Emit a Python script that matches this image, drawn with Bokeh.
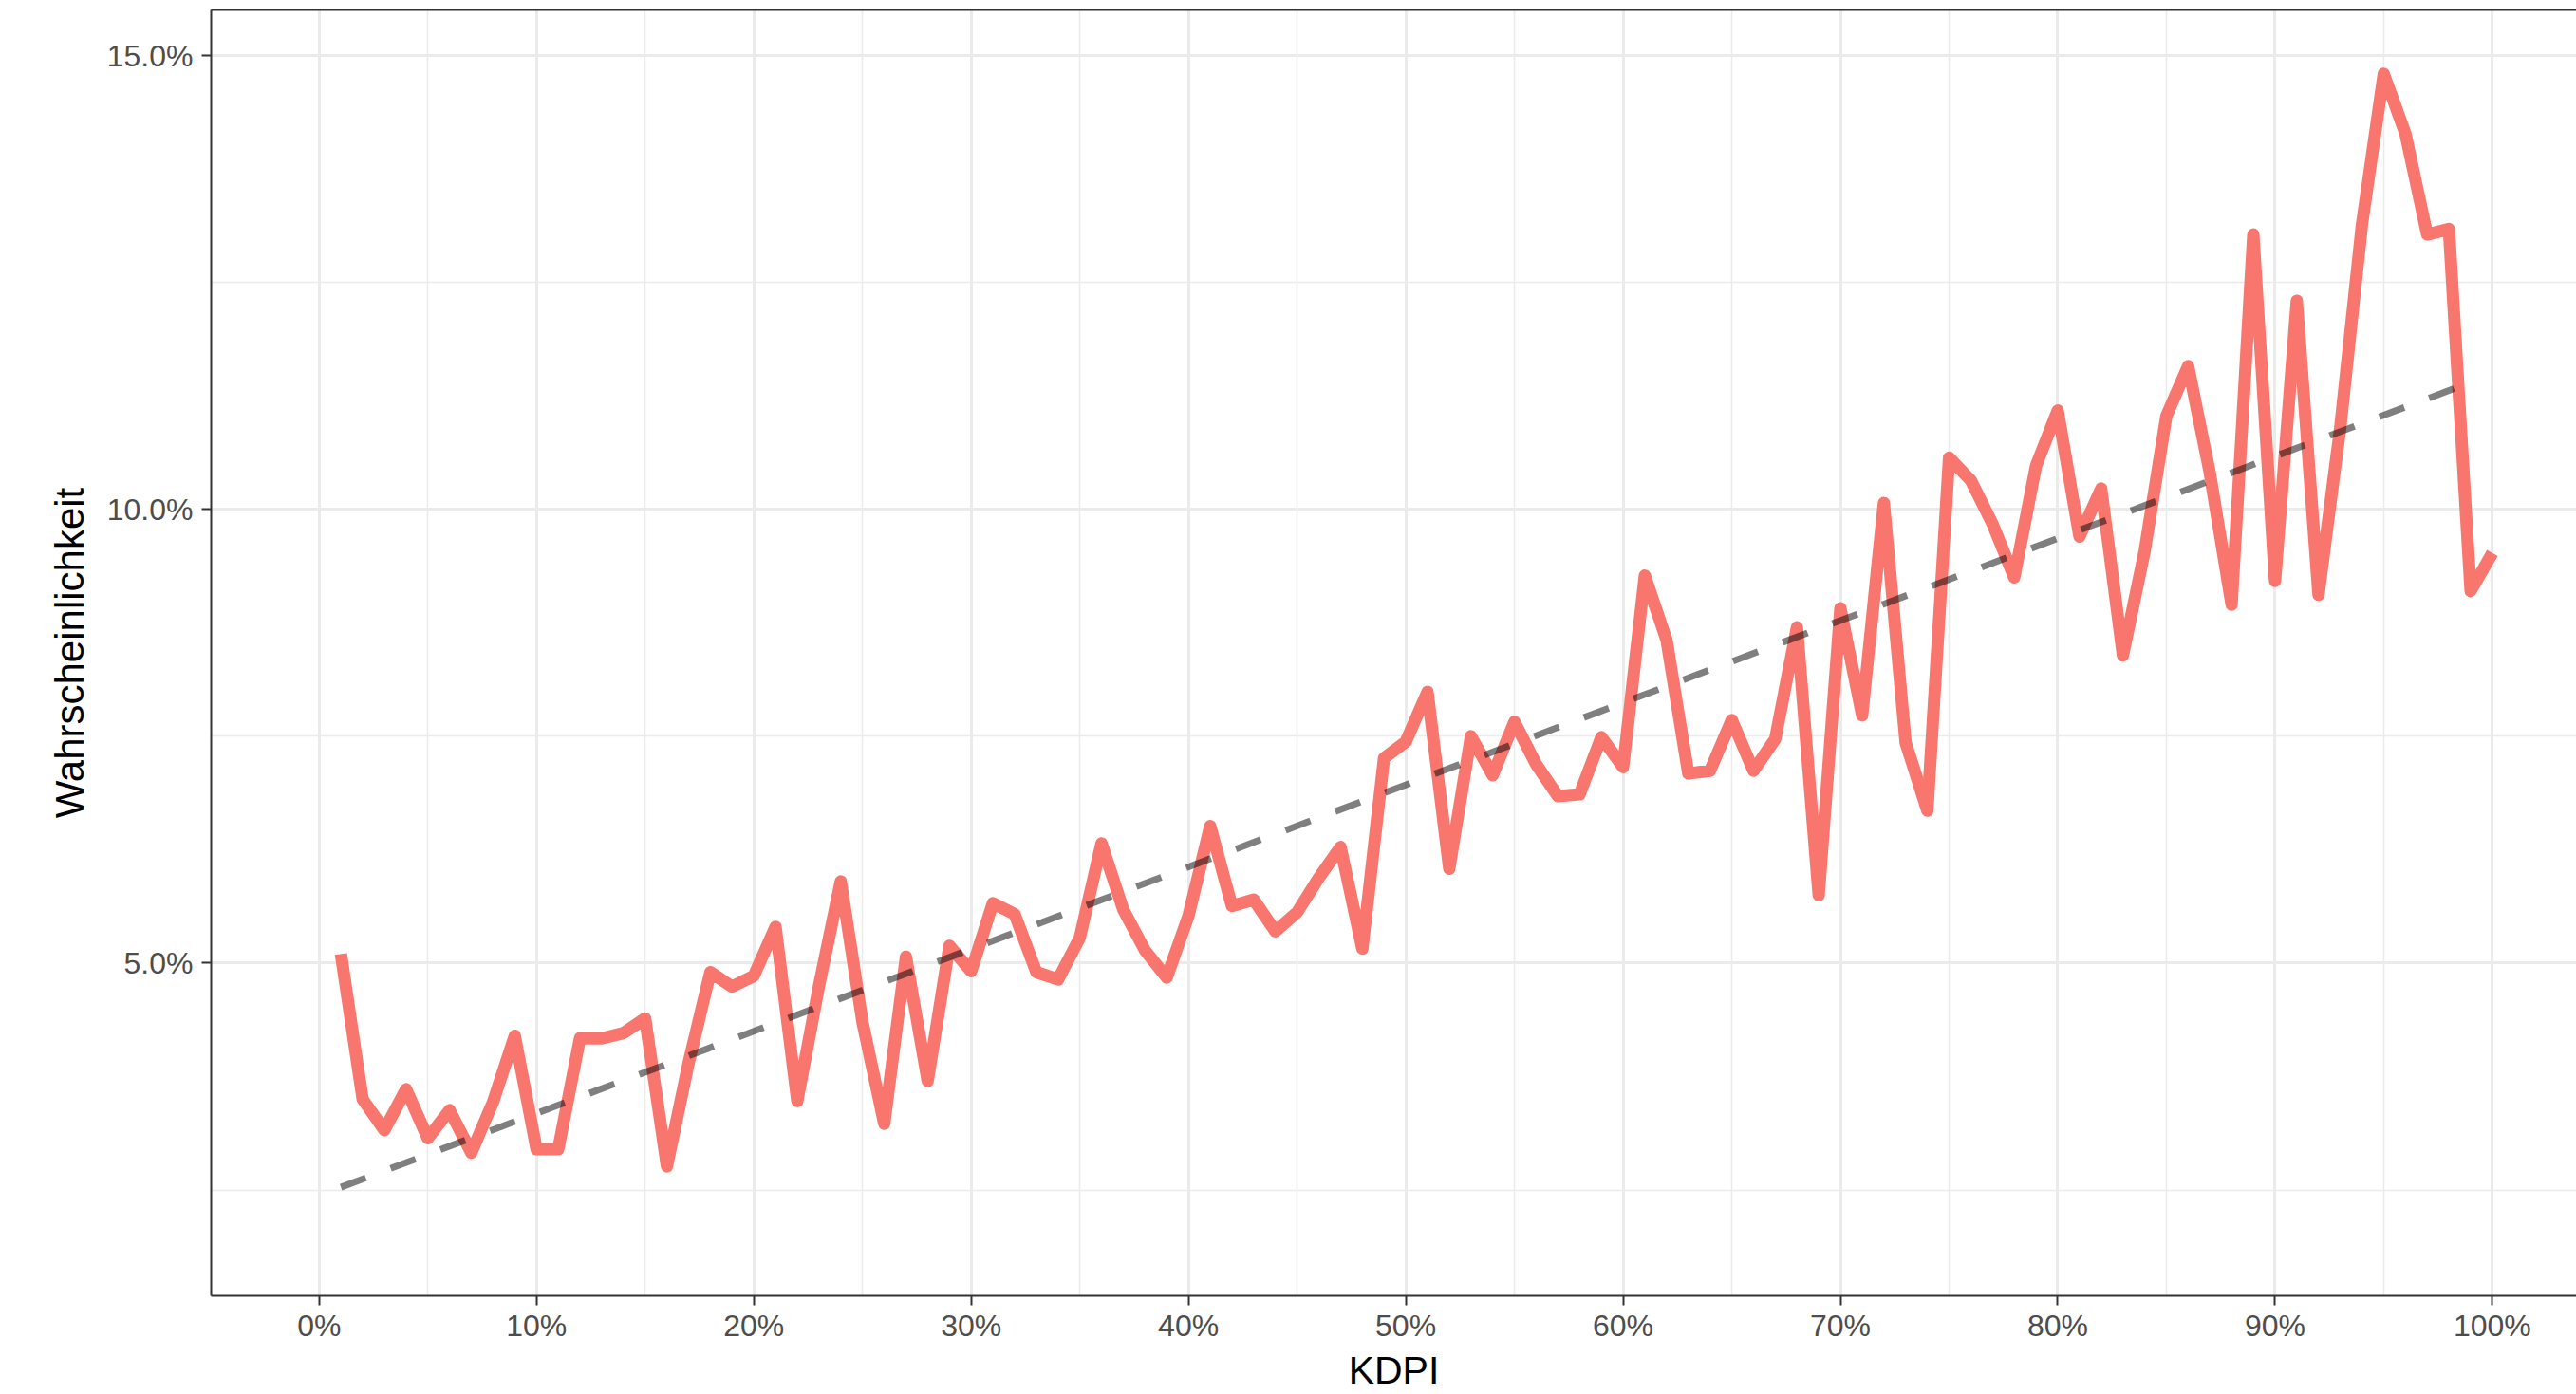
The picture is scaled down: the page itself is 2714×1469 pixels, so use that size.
from bokeh.plotting import figure
from bokeh.models import Range1d, FixedTicker, LinearAxis, CustomJSTickFormatter
from bokeh.embed import file_html
from bokeh.resources import INLINE

# ---- data ----
kdpi = list(range(1, 101))
prob = [
    5.10, 3.50, 3.16, 3.61, 3.07, 3.38, 2.91, 3.47, 4.20, 2.95,
    2.95, 4.17, 4.17, 4.23, 4.39, 2.76, 3.90, 4.90, 4.74, 4.86,
    5.40, 3.48, 4.75, 5.90, 4.35, 3.23, 5.07, 3.70, 5.19, 4.91,
    5.66, 5.54, 4.90, 4.82, 5.28, 6.32, 5.59, 5.14, 4.84, 5.52,
    6.51, 5.63, 5.70, 5.35, 5.56, 5.94, 6.28, 5.16, 7.26, 7.44,
    7.99, 6.04, 7.50, 7.07, 7.66, 7.19, 6.84, 6.86, 7.49, 7.16,
    9.27, 8.56, 7.09, 7.12, 7.68, 7.12, 7.47, 8.70, 5.75, 8.91,
    7.73, 10.07, 7.43, 6.68, 10.57, 10.32, 9.84, 9.25, 10.48, 11.09,
    9.70, 10.23, 8.39, 9.54, 11.03, 11.58, 10.40, 8.95, 13.03, 9.21,
    12.30, 9.06, 10.90, 13.14, 14.80, 14.14, 13.03, 13.09, 9.10, 9.52,
]
trend_x = [1, 99]
trend_y = [2.53, 11.40]

x_ticks = [0, 10, 20, 30, 40, 50, 60, 70, 80, 90, 100]
x_minor = [5, 15, 25, 35, 45, 55, 65, 75, 85, 95]
y_ticks = [5, 10, 15]
y_minor = [2.5, 7.5, 12.5]

FONT = "Liberation Sans"

p = figure(
    width=2714, height=1469,
    x_range=Range1d(-4.97, 103.87), y_range=Range1d(1.334, 15.504),
    output_backend="svg", toolbar_location=None,
    min_border_left=222, min_border_right=0, min_border_top=10, min_border_bottom=60,
    background_fill_color="white", border_fill_color="white",
)
p.outline_line_color = None

xt = FixedTicker(ticks=x_ticks, minor_ticks=x_minor)
yt = FixedTicker(ticks=y_ticks, minor_ticks=y_minor)
p.xaxis.ticker = xt
p.xgrid.ticker = xt
p.yaxis.ticker = yt
p.ygrid.ticker = yt

p.xaxis.formatter = CustomJSTickFormatter(code="return tick.toFixed(0) + '%';")
p.yaxis.formatter = CustomJSTickFormatter(code="return tick.toFixed(1) + '%';")

for g in (p.xgrid, p.ygrid):
    g.grid_line_color = "#EBEBEB"
    g.grid_line_width = 3
    g.minor_grid_line_color = "#EBEBEB"
    g.minor_grid_line_width = 1.5

for ax in (p.xaxis, p.yaxis):
    ax.axis_line_color = "#333333"
    ax.axis_line_width = 2
    ax.major_tick_line_color = "#333333"
    ax.major_tick_line_width = 2
    ax.major_tick_out = 10
    ax.major_tick_in = 0
    ax.minor_tick_out = 0
    ax.minor_tick_in = 0
    ax.major_label_text_font = FONT
    ax.major_label_text_font_size = "32px"
    ax.major_label_text_color = "#4D4D4D"
    ax.axis_label_text_font = FONT
    ax.axis_label_text_font_size = "41px"
    ax.axis_label_text_color = "black"
    ax.axis_label_text_font_style = "normal"

p.xaxis.major_label_standoff = 3
p.xaxis.axis_label_standoff = 3
p.yaxis.major_label_standoff = 9
p.yaxis.axis_label_standoff = 13
p.yaxis.axis_label_text_font_size = "42px"

p.xaxis.axis_label = "KDPI"
p.yaxis.axis_label = "Wahrscheinlichkeit"

top_axis = LinearAxis(
    ticker=FixedTicker(ticks=[]),
    axis_line_color="#333333", axis_line_width=2,
    major_tick_out=0, major_tick_in=0, minor_tick_out=0, minor_tick_in=0,
    major_label_standoff=0, axis_label_standoff=0,
)
p.add_layout(top_axis, "above")

p.line(kdpi, prob, line_color="#F8766D", line_width=13, line_join="round")
p.line(trend_x, trend_y, line_color="black", line_alpha=0.5, line_width=7, line_dash="28 28")

open("out.html", "w").write(file_html(p, INLINE))
